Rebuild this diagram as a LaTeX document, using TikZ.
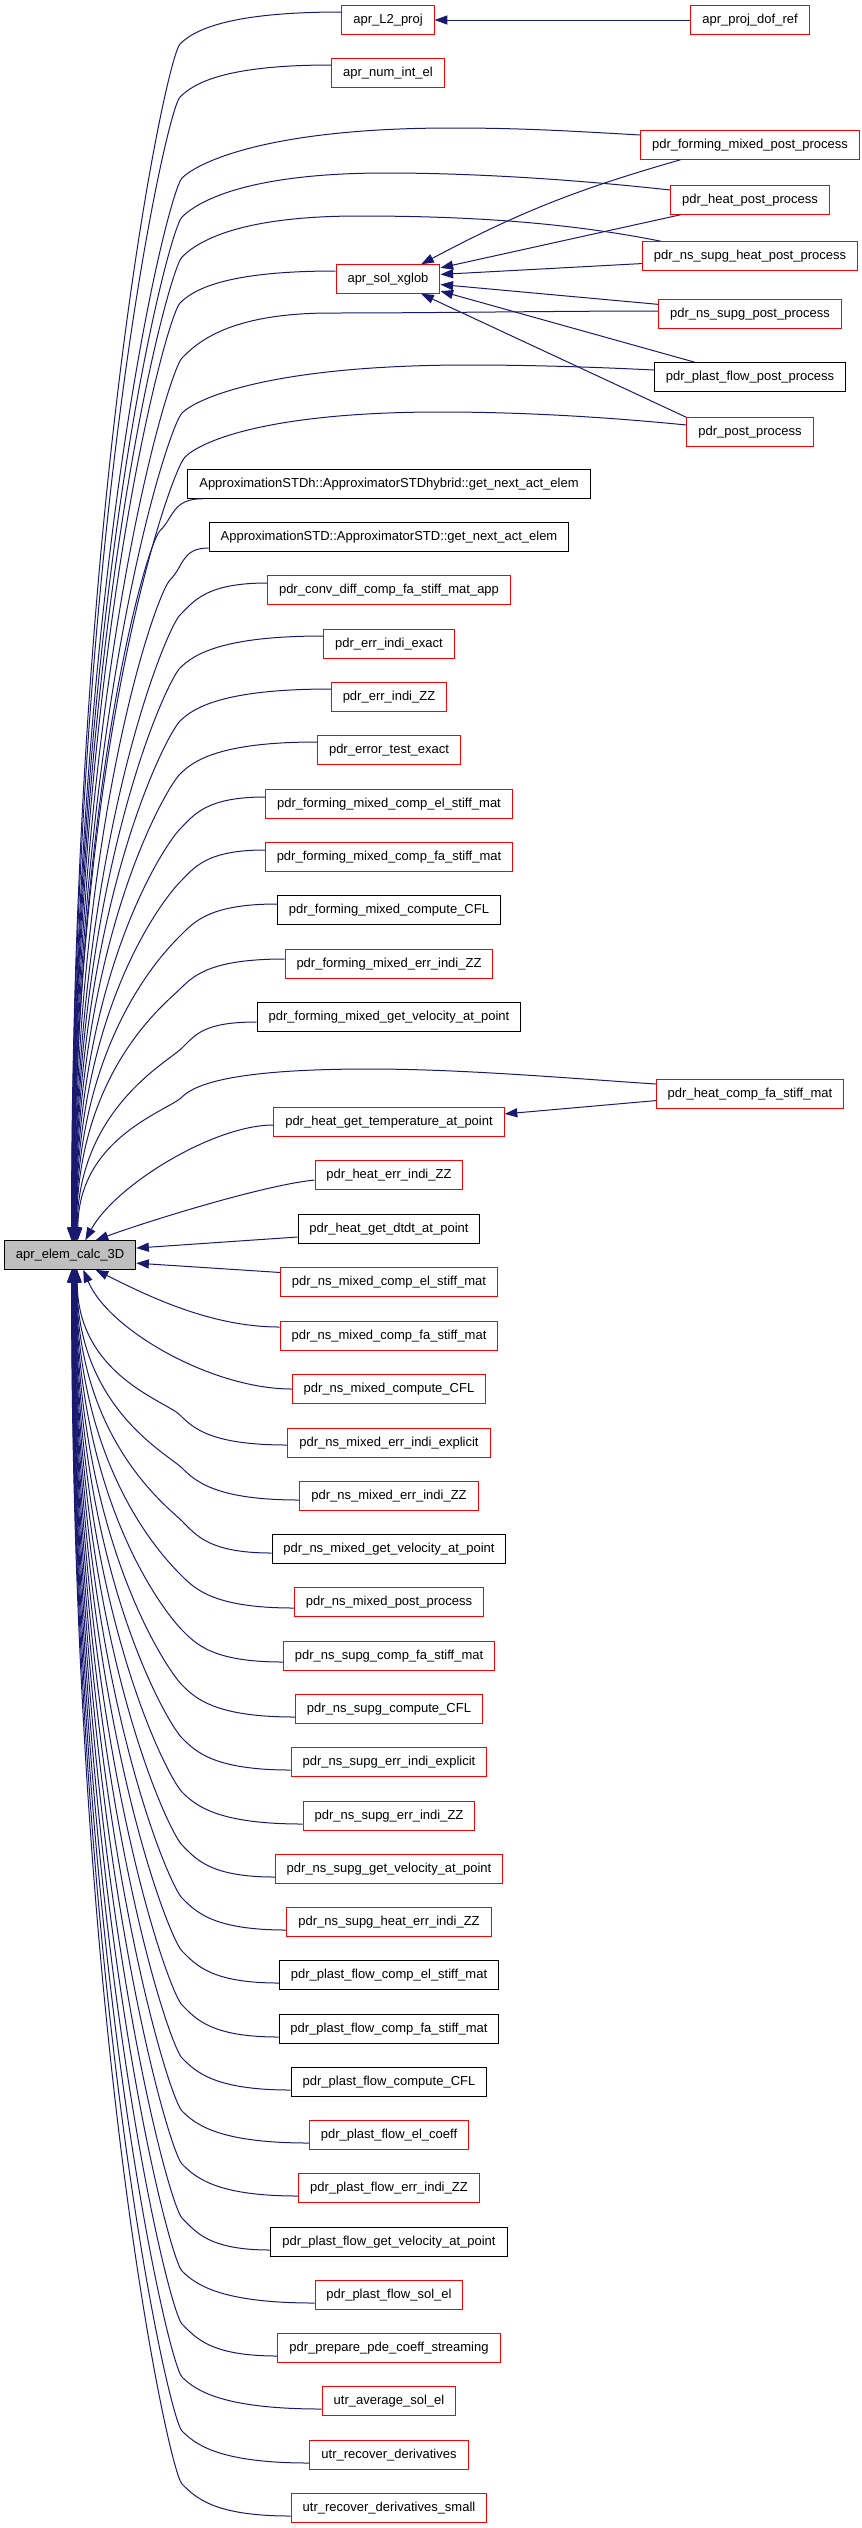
\documentclass[tikz,border=0pt]{standalone}
\usepackage{fontspec}
\setmainfont{Liberation Sans}
\usetikzlibrary{calc, arrows.meta}
\definecolor{callblue}{HTML}{191970}
\definecolor{boxgray}{HTML}{BFBFBF}
\newcommand\callfar[5][]{%
  \draw[call] let \p1=(#2), \p2=(#5,0), \p3=(#3) in #1 (\p1)
    .. controls ($(\p1)!0.7!(\x2,\y1)$) and ($(\x2,\y1)+(14,{#4-14*sign(#4)})$) .. ($(\x2,\y1)+(0,#4)$)
    .. controls ($(\x2,\y1)+(-14,{#4+14*sign(#4)})$) and ($(\p3)!0.6!(\x3,\y1)$) .. (\p3);}
\begin{document}
\begin{tikzpicture}[x=0.75pt, y=-0.75pt,
  fn/.style={draw=red, line width=0.75pt, minimum height=21.4pt, inner xsep=8.6pt, inner ysep=0pt, font=\fontsize{9.75}{11}\selectfont},
  fnb/.style={fn, draw=black},
  fnc/.style={fn, draw=black, fill=boxgray},
  call/.style={draw=callblue, line width=0.75pt, -{Triangle[length=9.5pt,width=6.8pt]}}]
\useasboundingbox (0,0) rectangle (861,2528);
\node[fn] (L2proj) at (388,20) {apr\_L2\_proj};
\node[fn] (projdof) at (750,20) {apr\_proj\_dof\_ref};
\node[fn] (numint) at (388,73) {apr\_num\_int\_el};
\node[fn] (fmpost) at (750,145) {pdr\_forming\_mixed\_post\_process};
\node[fn] (heatpost) at (750,200) {pdr\_heat\_post\_process};
\node[fn] (nshpost) at (750,256) {pdr\_ns\_supg\_heat\_post\_process};
\node[fn] (solx) at (388,279) {apr\_sol\_xglob};
\node[fn] (nspost) at (750,314) {pdr\_ns\_supg\_post\_process};
\node[fnb] (plpost) at (750,377) {pdr\_plast\_flow\_post\_process};
\node[fn] (post) at (750,432) {pdr\_post\_process};
\node[fnb] (stdh) at (389,484) {ApproximationSTDh::ApproximatorSTDhybrid::get\_next\_act\_elem};
\node[fnb] (std) at (389,537) {ApproximationSTD::ApproximatorSTD::get\_next\_act\_elem};
\node[fn] (cdfa) at (389,590) {pdr\_conv\_diff\_comp\_fa\_stiff\_mat\_app};
\node[fn] (errex) at (389,644) {pdr\_err\_indi\_exact};
\node[fn] (errzz) at (389,697) {pdr\_err\_indi\_ZZ};
\node[fn] (errtest) at (389,750) {pdr\_error\_test\_exact};
\node[fn] (fmcel) at (389,804) {pdr\_forming\_mixed\_comp\_el\_stiff\_mat};
\node[fn] (fmcfa) at (389,857) {pdr\_forming\_mixed\_comp\_fa\_stiff\_mat};
\node[fnb] (fmcfl) at (389,910) {pdr\_forming\_mixed\_compute\_CFL};
\node[fn] (fmzz) at (389,964) {pdr\_forming\_mixed\_err\_indi\_ZZ};
\node[fnb] (fmvel) at (389,1017) {pdr\_forming\_mixed\_get\_velocity\_at\_point};
\node[fn] (hcfa) at (750,1094) {pdr\_heat\_comp\_fa\_stiff\_mat};
\node[fn] (htemp) at (389,1122) {pdr\_heat\_get\_temperature\_at\_point};
\node[fn] (hzz) at (389,1175) {pdr\_heat\_err\_indi\_ZZ};
\node[fnb] (hdtdt) at (389,1229) {pdr\_heat\_get\_dtdt\_at\_point};
\node[fnc] (elem) at (70,1255) {apr\_elem\_calc\_3D};
\node[fn] (nmcel) at (389,1282) {pdr\_ns\_mixed\_comp\_el\_stiff\_mat};
\node[fn] (nmcfa) at (389,1336) {pdr\_ns\_mixed\_comp\_fa\_stiff\_mat};
\node[fn] (nmcfl) at (389,1389) {pdr\_ns\_mixed\_compute\_CFL};
\node[fn] (nmexp) at (389,1443) {pdr\_ns\_mixed\_err\_indi\_explicit};
\node[fn] (nmzz) at (389,1496) {pdr\_ns\_mixed\_err\_indi\_ZZ};
\node[fnb] (nmvel) at (389,1549) {pdr\_ns\_mixed\_get\_velocity\_at\_point};
\node[fn] (nmpost) at (389,1602) {pdr\_ns\_mixed\_post\_process};
\node[fn] (nscfa) at (389,1656) {pdr\_ns\_supg\_comp\_fa\_stiff\_mat};
\node[fn] (nscfl) at (389,1709) {pdr\_ns\_supg\_compute\_CFL};
\node[fn] (nsexp) at (389,1762) {pdr\_ns\_supg\_err\_indi\_explicit};
\node[fn] (nszz) at (389,1816) {pdr\_ns\_supg\_err\_indi\_ZZ};
\node[fn] (nsvel) at (389,1869) {pdr\_ns\_supg\_get\_velocity\_at\_point};
\node[fn] (nshzz) at (389,1922) {pdr\_ns\_supg\_heat\_err\_indi\_ZZ};
\node[fnb] (pfcel) at (389,1975) {pdr\_plast\_flow\_comp\_el\_stiff\_mat};
\node[fnb] (pfcfa) at (389,2029) {pdr\_plast\_flow\_comp\_fa\_stiff\_mat};
\node[fnb] (pfcfl) at (389,2082) {pdr\_plast\_flow\_compute\_CFL};
\node[fn] (pfcoef) at (389,2135) {pdr\_plast\_flow\_el\_coeff};
\node[fn] (pfzz) at (389,2188) {pdr\_plast\_flow\_err\_indi\_ZZ};
\node[fnb] (pfvel) at (389,2242) {pdr\_plast\_flow\_get\_velocity\_at\_point};
\node[fn] (pfsol) at (389,2295) {pdr\_plast\_flow\_sol\_el};
\node[fn] (prep) at (389,2348) {pdr\_prepare\_pde\_coeff\_streaming};
\node[fn] (utravg) at (389,2401) {utr\_average\_sol\_el};
\node[fn] (utrder) at (389,2455) {utr\_recover\_derivatives};
\node[fn] (utrsmall) at (389,2508) {utr\_recover\_derivatives\_small};
\draw[call] (projdof.west) -- (L2proj.east);
\draw[call] (fmpost.192) to[bend right=6] (solx.24);
\draw[call] (heatpost.192) -- (solx.12);
\draw[call] (nshpost.184) -- (solx.5);
\draw[call] (nspost.174) -- (solx.354);
\draw[call] (plpost.165) -- (solx.347);
\draw[call] (post.167) -- (solx.336);
\draw[call] (hcfa.184) -- (htemp.4);
\callfar{$(L2proj.west)+(0,-8)$}{elem.84}{32}{180}
\callfar{$(numint.west)+(0,-8)$}{elem.83}{32}{180}
\callfar[($(fmpost.west)+(0,-10)$) .. controls +(-70,-4) and +(70,0) ..]{452,128}{elem.82}{50}{182}
\callfar[($(heatpost.west)+(0,-10)$) .. controls +(-90,-10) and +(90,0) ..]{386,173}{elem.81}{44}{182}
\callfar[($(nshpost.north west)+(19,0)$) .. controls +(-100,-20) and +(100,0) ..]{359,216}{elem.80}{41}{182}
\callfar{$(solx.west)+(0,-8)$}{elem.79}{32}{180}
\callfar[($(nspost.west)+(0,-3)$) .. controls +(-100,0) and +(100,0) ..]{331,313}{elem.78}{45}{182}
\callfar[($(plpost.west)+(0,-7)$) .. controls +(-60,-3) and +(60,0) ..]{469,365}{elem.77}{48}{182}
\callfar[($(post.west)+(0,-7)$) .. controls +(-80,-8) and +(80,0) ..]{441,412}{elem.76}{45}{185}
\callfar{$(stdh.south west)+(15,0)$}{elem.75}{32}{160}
\callfar{$(std.west)+(0,11)$}{elem.74}{32}{170}
\callfar{$(cdfa.west)+(0,-7)$}{elem.73}{32}{180}
\callfar{$(errex.west)+(0,-8)$}{elem.72}{32}{180}
\callfar{$(errzz.west)+(0,-8)$}{elem.71}{32}{180}
\callfar{$(errtest.west)+(0,-8)$}{elem.70}{32}{180}
\callfar{$(fmcel.west)+(0,-7)$}{elem.69}{32}{180}
\callfar{$(fmcfa.west)+(0,-7)$}{elem.68}{32}{180}
\callfar{$(fmcfl.west)+(0,-6)$}{elem.67}{32}{180}
\callfar{$(fmzz.west)+(0,-5)$}{elem.66}{30}{180}
\callfar{$(fmvel.west)+(0,5)$}{elem.64}{26}{182}
\callfar[($(hcfa.west)+(0,-10)$) .. controls +(-90,-6) and +(90,0) ..]{370,1069}{elem.62}{28}{182}
\draw[call] ($(htemp.west)+(0,3)$) .. controls +(-60,0) and +(30,-55) .. (elem.44);
\draw[call] ($(hzz.west)+(0,5)$) .. controls +(-50,5) and +(55,-20) .. (elem.30);
\draw[call] (hdtdt.185) -- (elem.6);
\draw[call] (nmcel.175) -- (elem.353);
\draw[call] ($(nmcfa.west)+(0,-9)$) .. controls +(-70,0) and +(50,25) .. (elem.330);
\draw[call] (nmcfl.west) .. controls +(-80,0) and +(25,60) .. (elem.312);
\callfar{$(nmexp.west)+(0,2)$}{elem.296}{-30}{180}
\callfar{$(nmzz.west)+(0,4)$}{elem.295}{-32}{182}
\callfar{$(nmvel.west)+(0,4)$}{elem.294}{-32}{182}
\callfar{$(nmpost.west)+(0,6)$}{elem.293}{-32}{182}
\callfar{$(nscfa.west)+(0,6)$}{elem.292}{-32}{182}
\callfar{$(nscfl.west)+(0,8)$}{elem.291}{-32}{182}
\callfar{$(nsexp.west)+(0,8)$}{elem.290}{-32}{182}
\callfar{$(nszz.west)+(0,8)$}{elem.289}{-32}{182}
\callfar{$(nsvel.west)+(0,8)$}{elem.288}{-32}{182}
\callfar{$(nshzz.west)+(0,8)$}{elem.287}{-32}{182}
\callfar{$(pfcel.west)+(0,8)$}{elem.286}{-32}{182}
\callfar{$(pfcfa.west)+(0,8)$}{elem.285}{-32}{182}
\callfar{$(pfcfl.west)+(0,8)$}{elem.284}{-32}{182}
\callfar{$(pfcoef.west)+(0,8)$}{elem.283}{-32}{182}
\callfar{$(pfzz.west)+(0,8)$}{elem.282}{-32}{182}
\callfar{$(pfvel.west)+(0,8)$}{elem.281}{-32}{182}
\callfar{$(pfsol.west)+(0,8)$}{elem.280}{-32}{182}
\callfar{$(prep.west)+(0,8)$}{elem.279}{-32}{182}
\callfar{$(utravg.west)+(0,8)$}{elem.278}{-32}{182}
\callfar{$(utrder.west)+(0,8)$}{elem.277}{-32}{182}
\callfar{$(utrsmall.west)+(0,8)$}{elem.276}{-32}{182}
\end{tikzpicture}
\end{document}
